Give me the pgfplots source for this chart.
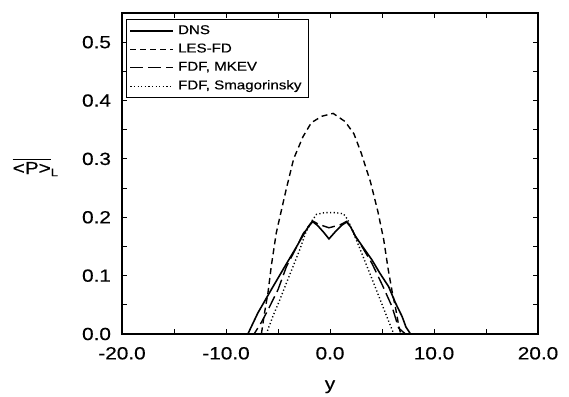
\documentclass[border=0pt]{standalone}
\usepackage{fontspec}
\setmainfont[FakeStretch=1.18, FakeBold=0.4]{Liberation Sans}
\usepackage{pgfplots}
\pgfplotsset{compat=1.18}
\begin{document}
\begin{tikzpicture}
\begin{axis}[
  scale only axis, width=208pt, height=160.5pt,
  xmin=-20, xmax=20, ymin=0, ymax=0.55,
  xtick={-20,-10,0,10,20}, ytick={0,0.1,0.2,0.3,0.4,0.5},
  minor x tick num=1, minor y tick num=1,
  tick align=inside, major tick length=2.5pt, minor tick length=2.5pt,
  axis line style={line width=0.6pt},
  every tick/.style={line width=0.5pt, black},
  /pgf/number format/assume math mode=true,
  xticklabel style={/pgf/number format/fixed, /pgf/number format/fixed zerofill, /pgf/number format/precision=1, yshift=-3pt},
  yticklabel style={/pgf/number format/fixed, /pgf/number format/fixed zerofill, /pgf/number format/precision=1, xshift=-2pt},
  ticklabel style={font=\fontsize{8.8}{9}\selectfont},
  xlabel={y},
  xlabel style={font=\fontsize{8.8}{9}\selectfont, yshift=-3.5pt},
  ylabel={$\overline{\hbox{<P>}}_{\hbox{\fontsize{5.5}{6}\selectfont L}}$},
  every axis y label/.style={at={(axis description cs:-0.207,0.52)}, anchor=center, font=\fontsize{8.8}{9}\selectfont},
  legend image code/.code={\draw[#1] (0pt,0pt) -- (21.5pt,0pt);},
  legend cell align=left,
  legend style={at={(axis description cs:0.0096,0.981)}, anchor=north west,
    draw=black, line width=0.5pt, font=\fontsize{6.4}{7}\selectfont,
    inner xsep=1.5pt, inner ysep=0.8pt, row sep=-0.8pt},
]
\addplot[black, line width=0.8pt] coordinates {
(-20,0) (-7.9,0) (-6.94,0.036) (-5.65,0.076) (-4.2,0.12) (-3.3,0.147) (-2.4,0.175)
(-2.0,0.186) (-1.7,0.193) (-1.2,0.186) (-0.6,0.174) (-0.1,0.163) (0.5,0.175) (1.1,0.186)
(1.6,0.192) (2.0,0.183) (2.42,0.168) (3.2,0.148) (4.03,0.127) (4.8,0.104) (5.64,0.081)
(6.3,0.053) (6.93,0.03) (7.3,0.012) (7.74,0) (20,0)};
\addlegendentry{DNS}
\addplot[black, line width=0.7pt, dash pattern=on 3pt off 2pt] coordinates {
(-20,0) (-6.6,0) (-6.3,0.036) (-5.97,0.07) (-5.65,0.116) (-5.17,0.173) (-4.7,0.21)
(-4.25,0.245) (-3.5,0.3) (-2.6,0.338) (-1.8,0.362) (-0.8,0.373) (0.3,0.378)
(1.45,0.364) (2.3,0.343) (3.0,0.31) (3.9,0.26) (4.6,0.21) (5.16,0.162) (5.6,0.11)
(6.0,0.07) (6.3,0.045) (6.6,0.015) (6.8,0) (20,0)};
\addlegendentry{LES-FD}
\addplot[black, line width=0.7pt, dash pattern=on 6.5pt off 2.5pt] coordinates {
(-20,0) (-7.3,0) (-6.6,0.02) (-6.0,0.04) (-5.0,0.076) (-4.2,0.115) (-3.3,0.146)
(-2.58,0.172) (-2.1,0.184) (-1.6,0.193) (-1.1,0.188) (-0.1,0.182) (0.97,0.187)
(1.6,0.193) (2.0,0.184) (2.42,0.168) (3.2,0.146) (4.03,0.121) (5.0,0.085) (5.96,0.047)
(6.6,0.01) (7.26,0) (20,0)};
\addlegendentry{FDF, MKEV}
\addplot[black, line width=0.7pt, dash pattern=on 0.6pt off 1.2pt] coordinates {
(-20,0) (-6.13,0) (-5.5,0.03) (-4.84,0.058) (-4.2,0.087) (-3.55,0.116) (-2.9,0.145)
(-2.35,0.173) (-1.7,0.195) (-1.3,0.205) (-0.5,0.208) (0.5,0.208) (1.29,0.206)
(1.7,0.196) (2.26,0.173) (2.9,0.145) (3.55,0.116) (4.2,0.087) (4.84,0.058)
(5.5,0.028) (6.13,0) (20,0)};
\addlegendentry{FDF, Smagorinsky}
\coordinate (bbSW) at (axis description cs:-0.2933,-0.196);
\coordinate (bbNE) at (axis description cs:1.0745,1.0405);
\end{axis}
\pgfresetboundingbox
\path[use as bounding box] (bbSW) rectangle (bbNE);
\end{tikzpicture}
\end{document}
